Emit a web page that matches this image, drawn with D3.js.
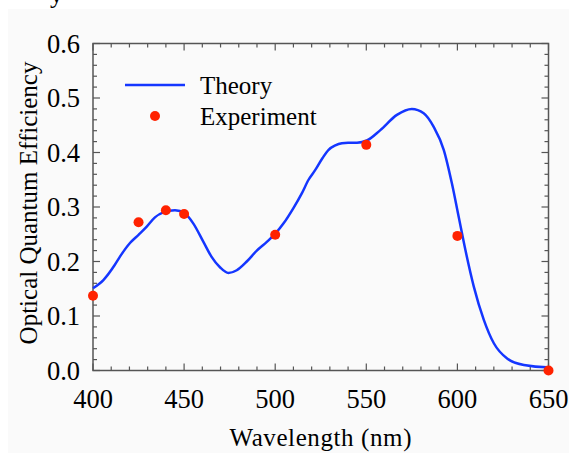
<!DOCTYPE html>
<html>
<head>
<meta charset="utf-8">
<script src="https://cdn.jsdelivr.net/npm/d3@7"></script>
<style>
  html, body { margin: 0; padding: 0; background: #fff; }
  svg { display: block; }
  text { font-family: "Liberation Serif", "Times New Roman", serif; fill: #000; }
</style>
</head>
<body>
<svg id="chart" width="569" height="453"></svg>
<script>
// theory curve
const theoryWl = [400, 405.7, 412, 414.8, 420.3, 425, 429.5, 434, 438.6, 445, 450.5, 455, 460.6, 465, 469.8, 474.3, 478.9, 484.4, 489.9, 495.4, 500.3, 504.6, 510, 514.6, 518.3, 522, 526, 529.3, 533, 536.6, 540, 544.9, 550.3, 557.7, 566.8, 575, 581.5, 587, 592.5, 597, 600.7, 604.4, 609, 614.5, 620, 627.3, 636.5, 649, 650];
const theoryQE = [0.151, 0.166, 0.194, 0.209, 0.234, 0.249, 0.264, 0.281, 0.290, 0.294, 0.288, 0.270, 0.236, 0.209, 0.189, 0.179, 0.184, 0.200, 0.220, 0.236, 0.252, 0.270, 0.298, 0.325, 0.350, 0.368, 0.390, 0.405, 0.413, 0.417, 0.418, 0.418, 0.422, 0.441, 0.469, 0.480, 0.472, 0.447, 0.405, 0.343, 0.282, 0.221, 0.154, 0.093, 0.050, 0.022, 0.010, 0.006, 0.006];

// experiment points
const expWl = [400, 425, 440, 450, 500, 550, 600, 650];
const expQE = [0.137, 0.272, 0.294, 0.287, 0.249, 0.414, 0.247, 0.0];

const xTicks = [400, 450, 500, 550, 600, 650];
const yTicks = [0.0, 0.1, 0.2, 0.3, 0.4, 0.5, 0.6];

const svg = d3.select("#chart");

// light page background (image is cropped at top/left)
svg.append("rect")
  .attr("x", 8).attr("y", 9)
  .attr("width", 561).attr("height", 444)
  .attr("fill", "#fafafa");

// cut-off title remnant at very top
svg.append("text")
  .attr("x", 50).attr("y", 3)
  .attr("font-size", 26)
  .text("y");

const x = d3.scaleLinear().domain([400, 650]).range([93, 548.5]);
const y = d3.scaleLinear().domain([0, 0.6]).range([370.5, 43.5]);

const axisColor = "#555";

// frame
svg.append("rect")
  .attr("x", x(400)).attr("y", y(0.6))
  .attr("width", x(650) - x(400)).attr("height", y(0) - y(0.6))
  .attr("fill", "none")
  .attr("stroke", axisColor)
  .attr("stroke-width", 1.5);

// ticks on all four sides, pointing inward
const xMinor = d3.range(400, 651, 10);
const yMinor = d3.range(0, 0.601, 0.02);
const isMajorX = v => Math.abs(v % 50) < 1e-6;
const isMajorY = v => Math.abs(Math.round(v * 10) - v * 10) < 1e-6;

const ticks = svg.append("g").attr("stroke", axisColor).attr("stroke-width", 1.2);
xMinor.forEach(v => {
  const len = isMajorX(v) ? 7 : 4;
  ticks.append("line").attr("x1", x(v)).attr("x2", x(v)).attr("y1", y(0)).attr("y2", y(0) - len);
  ticks.append("line").attr("x1", x(v)).attr("x2", x(v)).attr("y1", y(0.6)).attr("y2", y(0.6) + len);
});
yMinor.forEach(v => {
  const len = isMajorY(v) ? 7 : 4;
  ticks.append("line").attr("x1", x(400)).attr("x2", x(400) + len).attr("y1", y(v)).attr("y2", y(v));
  ticks.append("line").attr("x1", x(650)).attr("x2", x(650) - len).attr("y1", y(v)).attr("y2", y(v));
});

// tick labels
svg.append("g").selectAll("text")
  .data(xTicks)
  .join("text")
  .attr("x", d => x(d))
  .attr("y", 408)
  .attr("text-anchor", "middle")
  .attr("font-size", 26.5)
  .text(d => d);

svg.append("g").selectAll("text")
  .data(yTicks)
  .join("text")
  .attr("x", 80)
  .attr("y", d => y(d) + 9)
  .attr("text-anchor", "end")
  .attr("font-size", 26.5)
  .text(d => d.toFixed(1));

// axis titles
svg.append("text")
  .attr("x", (x(400) + x(650)) / 2)
  .attr("y", 446)
  .attr("text-anchor", "middle")
  .attr("font-size", 25)
  .attr("letter-spacing", 0.6)
  .text("Wavelength (nm)");

svg.append("text")
  .attr("transform", "translate(37,203) rotate(-90)")
  .attr("text-anchor", "middle")
  .attr("font-size", 25)
  .text("Optical Quantum Efficiency");

// theory line
const line = d3.line()
  .x((d, i) => x(theoryWl[i]))
  .y(d => y(d))
  .curve(d3.curveMonotoneX);

svg.append("path")
  .datum(theoryQE)
  .attr("d", line)
  .attr("fill", "none")
  .attr("stroke", "#1436ff")
  .attr("stroke-width", 2.5);

// experiment dots
svg.append("g").selectAll("circle")
  .data(expQE)
  .join("circle")
  .attr("cx", (d, i) => x(expWl[i]))
  .attr("cy", d => y(d))
  .attr("r", 5)
  .attr("fill", "#ff2200");

// legend
const legend = svg.append("g");
legend.append("line")
  .attr("x1", 125).attr("x2", 185)
  .attr("y1", 85).attr("y2", 85)
  .attr("stroke", "#1436ff").attr("stroke-width", 2.5);
legend.append("text")
  .attr("x", 200).attr("y", 94)
  .attr("font-size", 25)
  .text("Theory");
legend.append("circle")
  .attr("cx", 155).attr("cy", 116).attr("r", 5)
  .attr("fill", "#ff2200");
legend.append("text")
  .attr("x", 200).attr("y", 125)
  .attr("font-size", 25)
  .text("Experiment");
</script>
</body>
</html>
